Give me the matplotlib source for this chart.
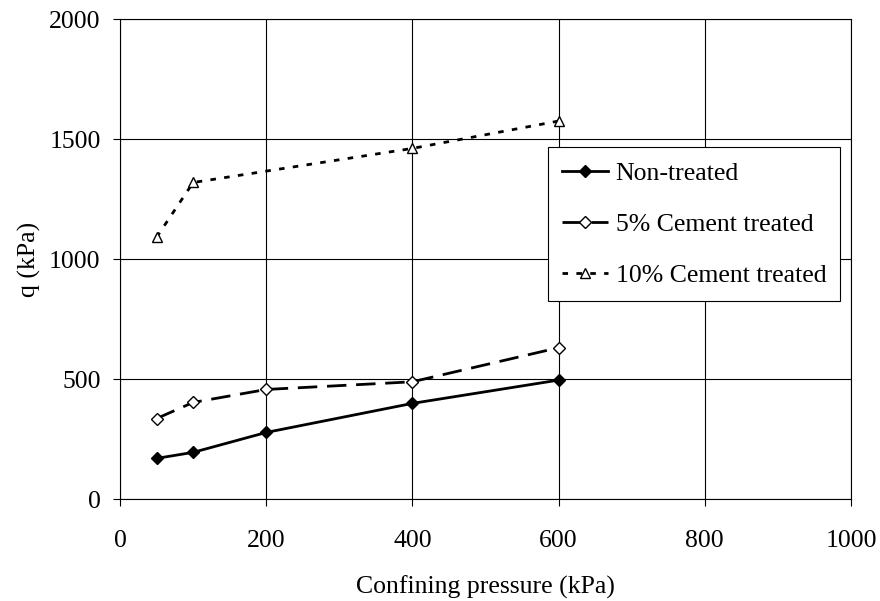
import matplotlib
matplotlib.use("Agg")
import matplotlib.pyplot as plt

plt.rcParams['font.family'] = ['Liberation Serif', 'DejaVu Serif']

# data
x_non = [50, 100, 200, 400, 600]
q_non = [171, 196, 279, 400, 497]
x_5 = [50, 100, 200, 400, 600]
q_5 = [337, 404, 458, 490, 632]
x_10 = [50, 100, 400, 600]
q_10 = [1092, 1320, 1462, 1576]

fig = plt.figure(figsize=(8.8, 6.01), dpi=100)
ax = fig.add_axes([0.1364, 0.169, 0.8306, 0.799])

ax.plot(x_non, q_non, color='black', lw=2, marker='D', ms=6,
        mfc='black', mec='black', label='Non-treated')
ax.plot(x_5, q_5, color='black', lw=2, dashes=(7, 3.5), marker='D', ms=6,
        mfc='white', mec='black', mew=1, label='5% Cement treated')
ax.plot(x_10, q_10, color='black', lw=2, dashes=(2, 3), marker='^', ms=7,
        mfc='white', mec='black', mew=1, label='10% Cement treated')

ax.set_xlim(0, 1000)
ax.set_ylim(0, 2000)
ax.set_xticks([0, 200, 400, 600, 800, 1000])
ax.set_yticks([0, 500, 1000, 1500, 2000])
ax.grid(True, color='black', lw=0.8)
ax.tick_params(direction='out', length=5, width=0.8, labelsize=18.5)
ax.tick_params(axis='y', pad=9)
ax.tick_params(axis='x', pad=17)
for s in ax.spines.values():
    s.set_linewidth(0.8)

ax.set_xlabel('Confining pressure (kPa)', fontsize=18.5, labelpad=17)
ax.set_ylabel('q (kPa)', fontsize=18.5, labelpad=6)

leg = ax.legend(loc='upper left', bbox_to_anchor=(0.585, 0.733), fontsize=18.5,
                fancybox=False, framealpha=1, edgecolor='black',
                handlelength=1.8, handletextpad=0.3, labelspacing=1.1,
                borderpad=0.55, borderaxespad=0)
leg.get_frame().set_linewidth(0.8)

fig.savefig('out.png', dpi=100)
